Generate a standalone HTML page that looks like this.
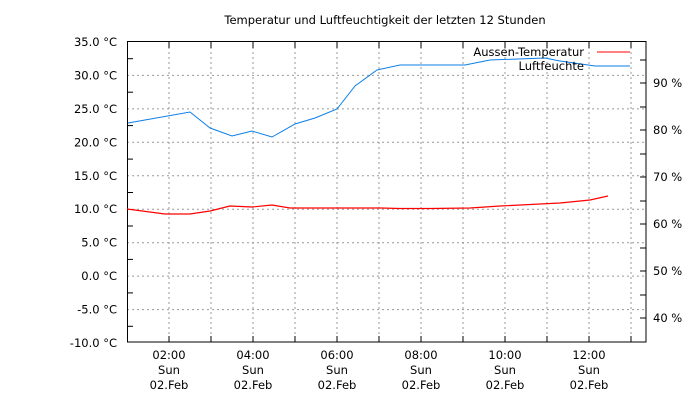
<!DOCTYPE html>
<html><head><style>body{margin:0;background:#fff}svg{display:block}</style></head><body>
<svg width="700" height="400" xmlns="http://www.w3.org/2000/svg" font-family="DejaVu Sans, Liberation Sans, sans-serif" font-size="11.5">
<rect width="700" height="400" fill="#fff"/>
<text x="385" y="24" text-anchor="middle">Temperatur und Luftfeuchtigkeit der letzten 12 Stunden</text>
<g stroke="#999" stroke-dasharray="2,3" stroke-width="1">
<line x1="169" y1="42" x2="169" y2="342"/><line x1="211" y1="42" x2="211" y2="342"/>
<line x1="253" y1="42" x2="253" y2="342"/><line x1="295" y1="42" x2="295" y2="342"/>
<line x1="337" y1="42" x2="337" y2="342"/><line x1="379" y1="42" x2="379" y2="342"/>
<line x1="421" y1="42" x2="421" y2="342"/><line x1="463" y1="42" x2="463" y2="342"/>
<line x1="505" y1="42" x2="505" y2="342"/><line x1="547" y1="42" x2="547" y2="342"/>
<line x1="589" y1="42" x2="589" y2="342"/><line x1="631" y1="42" x2="631" y2="342"/>
<line x1="127" y1="75.4" x2="646" y2="75.4"/><line x1="127" y1="108.9" x2="646" y2="108.9"/>
<line x1="127" y1="142.3" x2="646" y2="142.3"/><line x1="127" y1="175.8" x2="646" y2="175.8"/>
<line x1="127" y1="209.2" x2="646" y2="209.2"/><line x1="127" y1="242.7" x2="646" y2="242.7"/>
<line x1="127" y1="276.1" x2="646" y2="276.1"/><line x1="127" y1="309.6" x2="646" y2="309.6"/>
</g>
<rect x="127.5" y="41.5" width="518.5" height="300.5" fill="none" stroke="#000"/>
<g stroke="#000">
<line x1="127" y1="58.7" x2="133" y2="58.7"/><line x1="127" y1="92.2" x2="133" y2="92.2"/>
<line x1="127" y1="125.6" x2="133" y2="125.6"/><line x1="127" y1="159.1" x2="133" y2="159.1"/>
<line x1="127" y1="192.5" x2="133" y2="192.5"/><line x1="127" y1="226" x2="133" y2="226"/>
<line x1="127" y1="259.4" x2="133" y2="259.4"/><line x1="127" y1="292.9" x2="133" y2="292.9"/>
<line x1="127" y1="326.3" x2="133" y2="326.3"/>
<line x1="640" y1="60" x2="646" y2="60"/><line x1="640" y1="83" x2="646" y2="83"/><line x1="640" y1="107" x2="646" y2="107"/>
<line x1="640" y1="130" x2="646" y2="130"/><line x1="640" y1="154" x2="646" y2="154"/><line x1="640" y1="177" x2="646" y2="177"/>
<line x1="640" y1="201" x2="646" y2="201"/><line x1="640" y1="224" x2="646" y2="224"/><line x1="640" y1="248" x2="646" y2="248"/>
<line x1="640" y1="271" x2="646" y2="271"/><line x1="640" y1="295" x2="646" y2="295"/><line x1="640" y1="318" x2="646" y2="318"/>
<g>
<line x1="169" y1="42" x2="169" y2="48"/><line x1="211" y1="42" x2="211" y2="48"/><line x1="253" y1="42" x2="253" y2="48"/>
<line x1="295" y1="42" x2="295" y2="48"/><line x1="337" y1="42" x2="337" y2="48"/><line x1="379" y1="42" x2="379" y2="48"/>
<line x1="421" y1="42" x2="421" y2="48"/><line x1="463" y1="42" x2="463" y2="48"/><line x1="505" y1="42" x2="505" y2="48"/>
<line x1="547" y1="42" x2="547" y2="48"/><line x1="589" y1="42" x2="589" y2="48"/><line x1="631" y1="42" x2="631" y2="48"/>
<line x1="169" y1="336" x2="169" y2="342"/><line x1="211" y1="336" x2="211" y2="342"/><line x1="253" y1="336" x2="253" y2="342"/>
<line x1="295" y1="336" x2="295" y2="342"/><line x1="337" y1="336" x2="337" y2="342"/><line x1="379" y1="336" x2="379" y2="342"/>
<line x1="421" y1="336" x2="421" y2="342"/><line x1="463" y1="336" x2="463" y2="342"/><line x1="505" y1="336" x2="505" y2="342"/>
<line x1="547" y1="336" x2="547" y2="342"/><line x1="589" y1="336" x2="589" y2="342"/><line x1="631" y1="336" x2="631" y2="342"/>
</g>
</g>
<g text-anchor="end">
<text x="117" y="46">35.0 °C</text><text x="117" y="79.4">30.0 °C</text><text x="117" y="112.9">25.0 °C</text>
<text x="117" y="146.3">20.0 °C</text><text x="117" y="179.8">15.0 °C</text><text x="117" y="213.2">10.0 °C</text>
<text x="117" y="246.7">5.0 °C</text><text x="117" y="280.1">0.0 °C</text><text x="117" y="313.6">-5.0 °C</text>
<text x="117" y="347">-10.0 °C</text>
</g>
<g>
<text x="653" y="87">90 %</text><text x="653" y="134">80 %</text><text x="653" y="181">70 %</text>
<text x="653" y="228">60 %</text><text x="653" y="275">50 %</text><text x="653" y="322">40 %</text>
</g>
<g text-anchor="middle">
<text x="169" y="359">02:00</text><text x="169" y="374">Sun</text><text x="169" y="389">02.Feb</text>
<text x="253" y="359">04:00</text><text x="253" y="374">Sun</text><text x="253" y="389">02.Feb</text>
<text x="337" y="359">06:00</text><text x="337" y="374">Sun</text><text x="337" y="389">02.Feb</text>
<text x="421" y="359">08:00</text><text x="421" y="374">Sun</text><text x="421" y="389">02.Feb</text>
<text x="505" y="359">10:00</text><text x="505" y="374">Sun</text><text x="505" y="389">02.Feb</text>
<text x="589" y="359">12:00</text><text x="589" y="374">Sun</text><text x="589" y="389">02.Feb</text>
</g>
<polyline fill="none" stroke="#0a7fe8" stroke-width="1" points="128,123 190,112 210,128 232,136 252,131 272,137 295,124 315,118 337,109 355,86 377,70 400,65 465,65 490,60 545,58 560,61 595,66 630,66"/>
<polyline fill="none" stroke="#f00" stroke-width="1.2" points="127,209 165,214 190,214 210,211 230,206 252,207 272,205 290,208 380,208 400,208.5 430,208.5 470,208 500,206 560,203 590,200 608,196"/>
<text x="584" y="56" text-anchor="end">Aussen-Temperatur</text>
<line x1="597" y1="52" x2="630" y2="52" stroke="#f00"/>
<text x="584" y="70" text-anchor="end">Luftfeuchte</text>
</svg>
</body></html>
